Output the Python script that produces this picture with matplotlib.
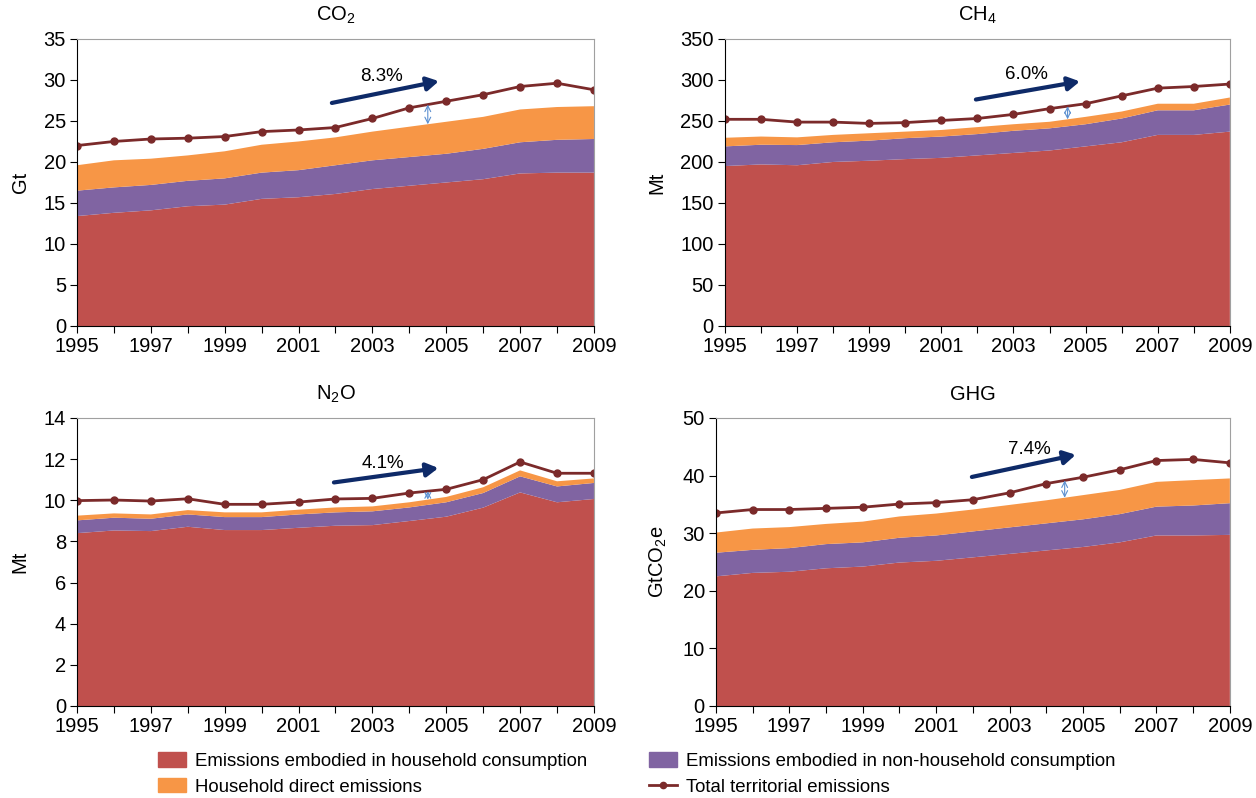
import numpy as np
import matplotlib.pyplot as plt
import matplotlib
matplotlib.rcParams.update({'font.family': ['Liberation Sans', 'DejaVu Sans'], 'font.size': 14})

years = np.arange(1995, 2010)

# CO2, Gt
co2_hh = [13.4, 13.8, 14.1, 14.6, 14.8, 15.5, 15.7, 16.1, 16.7, 17.1, 17.5, 17.9, 18.6, 18.7, 18.7]
co2_nonhh = [3.1, 3.1, 3.1, 3.1, 3.2, 3.2, 3.3, 3.5, 3.5, 3.5, 3.5, 3.7, 3.8, 4.0, 4.1]
co2_direct = [3.1, 3.3, 3.2, 3.1, 3.3, 3.4, 3.5, 3.4, 3.5, 3.7, 3.9, 3.9, 4.0, 4.0, 4.0]
co2_total = [22.0, 22.5, 22.8, 22.9, 23.1, 23.7, 23.9, 24.2, 25.3, 26.6, 27.4, 28.2, 29.2, 29.6, 28.8]

# CH4, Mt
ch4_hh = [195, 197, 196, 200, 201.5, 203.5, 205, 208, 211, 214, 219, 224, 233, 233, 237]
ch4_nonhh = [24, 24, 24.6, 24, 24.5, 25.5, 26, 26, 27, 27, 27, 29, 30, 30, 33]
ch4_direct = [10.5, 10, 9.4, 9, 9, 8, 8, 8.5, 8, 8, 9, 8.5, 8, 8, 8.6]
ch4_total = [252, 252, 248.6, 248.6, 247, 248, 250.6, 253, 258, 265, 271, 280.6, 290, 292, 295]

# N2O, Mt
n2o_hh = [8.40, 8.53, 8.50, 8.71, 8.55, 8.55, 8.66, 8.76, 8.79, 8.99, 9.20, 9.64, 10.38, 9.90, 10.06]
n2o_nonhh = [0.62, 0.62, 0.60, 0.60, 0.63, 0.63, 0.65, 0.65, 0.67, 0.66, 0.70, 0.71, 0.78, 0.77, 0.78]
n2o_direct = [0.23, 0.21, 0.21, 0.21, 0.23, 0.23, 0.23, 0.24, 0.24, 0.25, 0.26, 0.28, 0.29, 0.25, 0.22]
n2o_total = [9.98, 10.01, 9.96, 10.07, 9.80, 9.80, 9.91, 10.06, 10.09, 10.35, 10.53, 11.0, 11.86, 11.31, 11.31]

# GHG, GtCO2e
ghg_hh = [22.5, 23.1, 23.3, 23.9, 24.2, 24.9, 25.2, 25.8, 26.4, 27.0, 27.6, 28.4, 29.6, 29.6, 29.7]
ghg_nonhh = [4.1, 4.0, 4.1, 4.2, 4.2, 4.3, 4.4, 4.5, 4.6, 4.7, 4.8, 4.9, 5.0, 5.2, 5.5]
ghg_direct = [3.5, 3.7, 3.65, 3.5, 3.6, 3.7, 3.8, 3.8, 3.9, 4.0, 4.2, 4.2, 4.3, 4.4, 4.3]
ghg_total = [33.5, 34.1, 34.1, 34.3, 34.5, 35.05, 35.3, 35.8, 37.0, 38.6, 39.7, 41.0, 42.6, 42.8, 42.2]

pct = ['8.3%', '6.0%', '4.1%', '7.4%']

c_hh = '#C0504D'
c_nonhh = '#8064A2'
c_direct = '#F79646'
c_total = '#7B2A2A'
c_arrow = '#0E2A68'
c_gap = '#5B8FD0'

fig = plt.figure(figsize=(12.56, 7.98), dpi=100)

# [left, bottom, width, height], title, ylabel, ymax, ystep, data, pct, arrow/text positions
panels = [
    ([0.0613, 0.5915, 0.4116, 0.3597], r'CO$_\mathregular{2}$', 'Gt', 35, 5,
     (co2_hh, co2_nonhh, co2_direct, co2_total), pct[0],
     ((0.493, 0.777), (0.70, 0.853), (0.589, 0.868))),
    ([0.5772, 0.5915, 0.4020, 0.3597], r'CH$_\mathregular{4}$', 'Mt', 350, 50,
     (ch4_hh, ch4_nonhh, ch4_direct, ch4_total), pct[1],
     ((0.497, 0.789), (0.703, 0.852), (0.598, 0.877))),
    ([0.0613, 0.1153, 0.4116, 0.3610], r'N$_\mathregular{2}$O', 'Mt', 14, 2,
     (n2o_hh, n2o_nonhh, n2o_direct, n2o_total), pct[2],
     ((0.497, 0.776), (0.699, 0.826), (0.592, 0.842))),
    ([0.5700, 0.1153, 0.4092, 0.3610], 'GHG', r'GtCO$_\mathregular{2}$e', 50, 10,
     (ghg_hh, ghg_nonhh, ghg_direct, ghg_total), pct[3],
     ((0.498, 0.795), (0.70, 0.872), (0.609, 0.890))),
]

for pos, title, ylab, ymax, ystep, data, p, arr in panels:
    hh, nonhh, direct, total = data
    ax = fig.add_axes(pos)
    ax.stackplot(years, hh, nonhh, direct, colors=[c_hh, c_nonhh, c_direct], lw=0)
    ax.plot(years, total, color=c_total, lw=2, marker='o', ms=5)
    ax.set_xlim(1995, 2009)
    ax.set_ylim(0, ymax)
    ax.set_yticks(np.arange(0, ymax + ystep / 2, ystep))
    ax.set_xticks(years)
    ax.set_xticklabels([str(y) if (y - 1995) % 2 == 0 else '' for y in years])
    ax.tick_params(direction='out', length=5, labelsize=14.5)
    ax.tick_params(axis='x', pad=3)
    ax.tick_params(axis='y', pad=3)
    for s in ['top', 'right']:
        ax.spines[s].set_color('#A0A0A0')
        ax.spines[s].set_linewidth(0.8)
    ax.set_title(title, fontsize=14.5, pad=13)
    ax.set_ylabel(ylab, fontsize=14.5, labelpad=10)

    # growth arrow and label
    ax.annotate('', xy=arr[1], xytext=arr[0], xycoords='axes fraction',
                arrowprops=dict(arrowstyle='-|>,head_length=0.35,head_width=0.2',
                                lw=3, color=c_arrow, mutation_scale=20,
                                shrinkA=0, shrinkB=0))
    ax.text(arr[2][0], arr[2][1], p, transform=ax.transAxes, ha='center', va='center',
            fontsize=13.5)

    # gap between total and household-based emissions at mid 2004
    top = np.array(hh) + np.array(nonhh) + np.array(direct)
    x0 = 2004.5
    lo = np.interp(x0, years, top)
    hi = np.interp(x0, years, total)
    ax.annotate('', xy=(x0, hi), xytext=(x0, lo),
                arrowprops=dict(arrowstyle='<->,head_length=0.3,head_width=0.15',
                                lw=0.8, color=c_gap, shrinkA=0, shrinkB=0))

h1 = matplotlib.patches.Patch(color=c_hh, label='Emissions embodied in household consumption')
h2 = matplotlib.patches.Patch(color=c_nonhh, label='Emissions embodied in non-household consumption')
h3 = matplotlib.patches.Patch(color=c_direct, label='Household direct emissions')
h4 = matplotlib.lines.Line2D([], [], color=c_total, lw=2, marker='o', ms=4.5,
                             label='Total territorial emissions')
fig.legend(handles=[h1, h3, h2, h4], ncol=2, loc='center', bbox_to_anchor=(0.507, 0.030),
           frameon=False, fontsize=13.4, columnspacing=3.3, handlelength=1.5,
           handleheight=0.8, labelspacing=0.45, handletextpad=0.5, borderpad=0.2)

fig.savefig('out.png', dpi=100)
